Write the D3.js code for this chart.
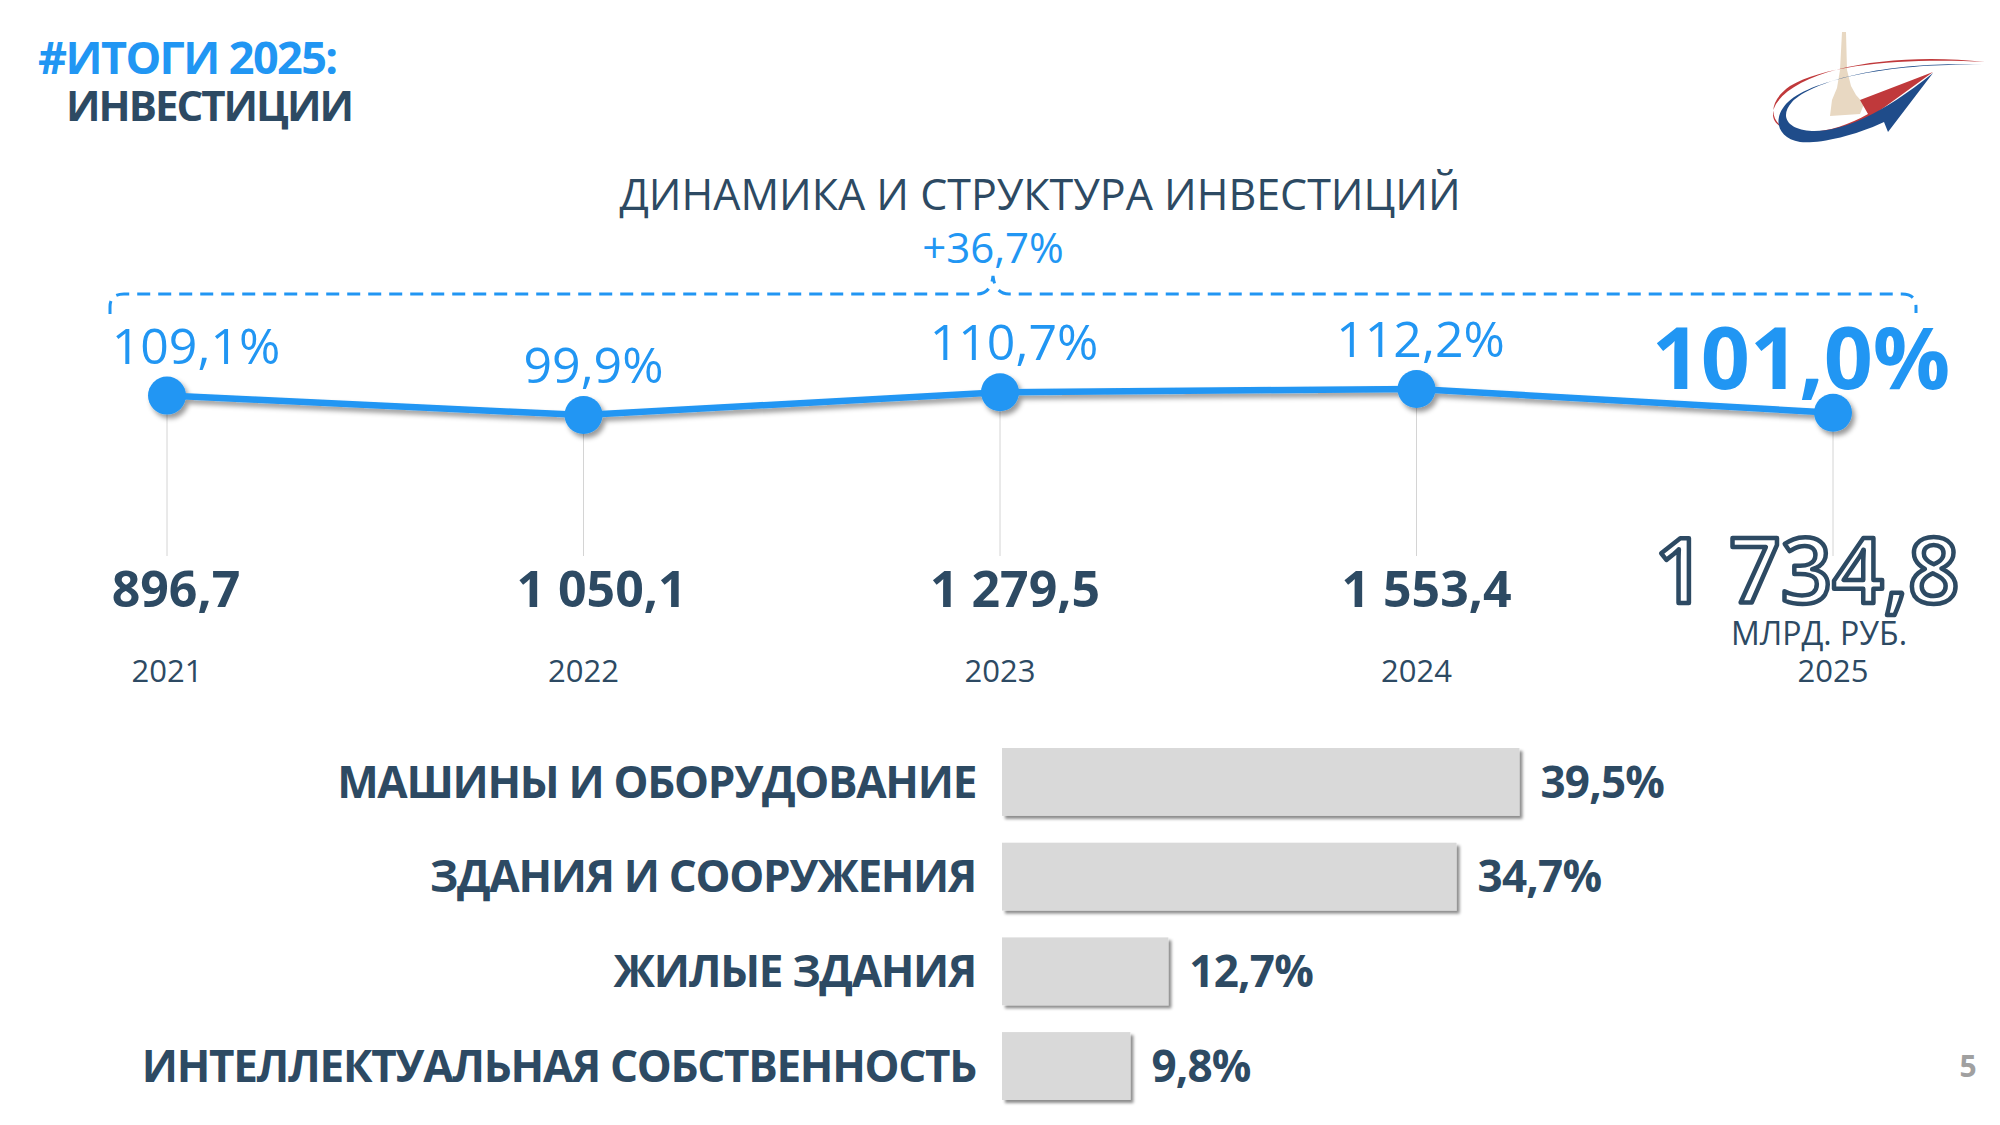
<!DOCTYPE html>
<html>
<head>
<meta charset="utf-8">
<script src="https://cdn.jsdelivr.net/npm/d3@7.9.0/dist/d3.min.js"></script>
<style>
  html, body { margin: 0; padding: 0; background: #fff; }
  svg { display: block; font-family: 'Open Sans', sans-serif; }
</style>
</head>
<body>
<svg id="chart" width="2000" height="1125"></svg>
<script>
// data
const years = ['2021', '2022', '2023', '2024', '2025'];
const growth = [109.1, 99.9, 110.7, 112.2, 101.0];      // % к предыдущему году
const volume = [896.7, 1050.1, 1279.5, 1553.4, 1734.8]; // млрд. руб.
const totalGrowth = 36.7;

const categories = ['МАШИНЫ И ОБОРУДОВАНИЕ', 'ЗДАНИЯ И СООРУЖЕНИЯ', 'ЖИЛЫЕ ЗДАНИЯ', 'ИНТЕЛЛЕКТУАЛЬНАЯ СОБСТВЕННОСТЬ'];
const shares = [39.5, 34.7, 12.7, 9.8];

const BLUE = '#2196f3';
const DARK = '#2d4a63';

const ru = d3.formatLocale({ decimal: ',', thousands: ' ', grouping: [3], currency: ['', ''] });
const fmtNum = ru.format(',.1f');
const fmtPct = (v) => ru.format('.1f')(v) + '%';

const svg = d3.select('#chart');

// shadows
const defs = svg.append('defs');
defs.append('filter').attr('id', 'shadow')
  .attr('x', '-20%').attr('y', '-50%').attr('width', '150%').attr('height', '250%')
  .append('feDropShadow')
  .attr('dx', 3).attr('dy', 4).attr('stdDeviation', 2.5)
  .attr('flood-color', '#000').attr('flood-opacity', 0.4);
defs.append('filter').attr('id', 'barShadow')
  .attr('x', '-5%').attr('y', '-10%').attr('width', '115%').attr('height', '130%')
  .append('feDropShadow')
  .attr('dx', 3).attr('dy', 3).attr('stdDeviation', 1.5)
  .attr('flood-color', '#000').attr('flood-opacity', 0.45);

// header (one text, two lines)
const head = svg.append('text').attr('font-weight', 700);
head.append('tspan').attr('x', 38).attr('y', 74)
  .attr('font-size', 45).attr('fill', BLUE).attr('letter-spacing', -1.6)
  .text('#ИТОГИ 2025:');
head.append('tspan').attr('x', 66).attr('y', 121)
  .attr('font-size', 42).attr('fill', DARK).attr('letter-spacing', -2)
  .text('ИНВЕСТИЦИИ');

svg.append('text').attr('x', 1040).attr('y', 210).attr('text-anchor', 'middle')
  .attr('font-size', 43).attr('fill', DARK)
  .text('ДИНАМИКА И СТРУКТУРА ИНВЕСТИЦИЙ');

// logo
const logo = svg.append('g').attr('class', 'logo');
logo.append('path')
  .attr('d', 'M1842,32 L1846,32 L1847,70 L1851,86 L1856,95 L1864,104 L1860,114 L1830,116 L1832,100 L1837,88 L1840,70 Z')
  .attr('fill', '#e8d8c2');
logo.append('path')
  .attr('d', 'M1985,62 C1900,52 1800,66 1776,104 C1766,122 1782,132 1806,132 C1830,132 1850,124 1868,114 L1860,100 L1933,72 L1864,122 C1840,136 1800,138 1784,128 C1768,118 1770,100 1790,86 C1830,62 1920,58 1985,62 Z')
  .attr('fill', '#c0393b');
logo.append('path')
  .attr('d', 'M1983,65 C1900,60 1815,78 1792,102 C1778,118 1790,130 1812,131 C1840,132 1880,116 1933,73 L1888,132 L1884,122 C1850,138 1815,144 1800,142 C1778,138 1772,120 1786,104 C1810,78 1900,62 1983,65 Z')
  .attr('fill', '#1f4c8a');

// line chart of growth
const x = d3.scalePoint().domain(years).range([167, 1833]);
const y = d3.scaleLinear().domain([95, 115]).range([425.4, 383.1]);

const rows = years.map((yr, i) => ({ year: yr, growth: growth[i], volume: volume[i], last: i === years.length - 1 }));

// dashed bracket over the period
const bl = x(years[0]) - 57, br = x(years[years.length - 1]) + 83, by = 294, nx = x('2023') - 7;
const bp = d3.path();
bp.moveTo(bl, 314); bp.lineTo(bl, 307);
bp.quadraticCurveTo(bl, by, bl + 14, by);
bp.lineTo(nx - 16, by);
bp.quadraticCurveTo(nx - 2, by, nx, by - 18);
bp.quadraticCurveTo(nx + 2, by, nx + 16, by);
bp.lineTo(br - 14, by);
bp.quadraticCurveTo(br, by, br, by + 13);
bp.lineTo(br, 313);
svg.append('path').attr('d', bp.toString())
  .attr('fill', 'none').attr('stroke', BLUE).attr('stroke-width', 3)
  .attr('stroke-dasharray', '13 8');
svg.append('text').attr('x', nx).attr('y', 263).attr('text-anchor', 'middle')
  .attr('font-size', 42).attr('fill', BLUE)
  .text('+' + ru.format('.1f')(totalGrowth) + '%');

// thin drop lines
svg.append('g').selectAll('line').data(rows).join('line')
  .attr('x1', (d) => x(d.year)).attr('x2', (d) => x(d.year))
  .attr('y1', (d) => y(d.growth)).attr('y2', 556)
  .attr('stroke', '#d4d4d4').attr('stroke-width', 1);

const lineG = svg.append('g').attr('filter', 'url(#shadow)');
lineG.append('path').datum(rows)
  .attr('d', d3.line().x((d) => x(d.year)).y((d) => y(d.growth)))
  .attr('fill', 'none').attr('stroke', BLUE).attr('stroke-width', 6.5);
lineG.selectAll('circle').data(rows).join('circle')
  .attr('cx', (d) => x(d.year)).attr('cy', (d) => y(d.growth)).attr('r', 19)
  .attr('fill', BLUE);

// growth labels
const nudge = [29, 10, 14, 4, -32];
svg.append('g').selectAll('text').data(rows).join('text')
  .attr('x', (d, i) => x(d.year) + nudge[i])
  .attr('y', (d) => y(d.growth) - (d.last ? 24 : 32))
  .attr('text-anchor', 'middle')
  .attr('font-size', (d) => d.last ? 86 : 50)
  .attr('font-weight', (d) => d.last ? 700 : 400)
  .attr('fill', BLUE)
  .text((d) => fmtPct(d.growth));

// volume + year under each point (one text per column)
const vNudge = [9, 18, 15, 10, -26];
const cols = svg.append('g').selectAll('text').data(rows).join('text')
  .attr('text-anchor', 'middle');

cols.append('tspan')
  .attr('x', (d, i) => x(d.year) + vNudge[i])
  .attr('y', (d) => d.last ? 603 : 607)
  .attr('font-size', (d) => d.last ? 90 : 50)
  .attr('font-weight', (d) => d.last ? 600 : 700)
  .attr('fill', (d) => d.last ? '#fff' : DARK)
  .attr('stroke', (d) => d.last ? DARK : 'none')
  .attr('stroke-width', 4.5)
  .attr('stroke-linejoin', 'round')
  .text((d) => fmtNum(d.volume));

cols.filter((d) => d.last).append('tspan')
  .attr('x', (d) => x(d.year) - 14).attr('y', 645)
  .attr('font-size', 32).attr('fill', DARK)
  .text('МЛРД. РУБ.');

cols.append('tspan')
  .attr('x', (d) => x(d.year)).attr('y', 682)
  .attr('font-size', 31).attr('fill', DARK)
  .text((d) => d.year);

// structure bars
const bx = d3.scaleLinear().domain([0, 40]).range([1002, 1526]);
const band = d3.scaleBand().domain(categories).range([748, 1100]).paddingInner(0.283).paddingOuter(0);
const bars = categories.map((c, i) => ({ cat: c, share: shares[i] }));

svg.append('g').selectAll('rect').data(bars).join('rect')
  .attr('x', bx(0)).attr('y', (d) => band(d.cat))
  .attr('width', (d) => bx(d.share) - bx(0)).attr('height', band.bandwidth())
  .attr('fill', '#d9d9d9').attr('filter', 'url(#barShadow)');

svg.append('g').selectAll('text').data(bars).join('text')
  .attr('x', bx(0) - 26).attr('y', (d) => band(d.cat) + band.bandwidth() / 2)
  .attr('dy', '0.36em').attr('text-anchor', 'end')
  .attr('font-size', 44).attr('font-weight', 700).attr('fill', DARK)
  .attr('letter-spacing', -1.3)
  .text((d) => d.cat);

svg.append('g').selectAll('text').data(bars).join('text')
  .attr('x', (d) => bx(d.share) + 21).attr('y', (d) => band(d.cat) + band.bandwidth() / 2)
  .attr('dy', '0.36em')
  .attr('font-size', 44).attr('font-weight', 700).attr('fill', DARK)
  .attr('letter-spacing', -0.8)
  .text((d) => fmtPct(d.share));

// page number
svg.append('text').attr('x', 1968).attr('y', 1077).attr('text-anchor', 'middle')
  .attr('font-size', 30).attr('font-weight', 700).attr('fill', '#a0a0a0').text('5');
</script>
</body>
</html>
